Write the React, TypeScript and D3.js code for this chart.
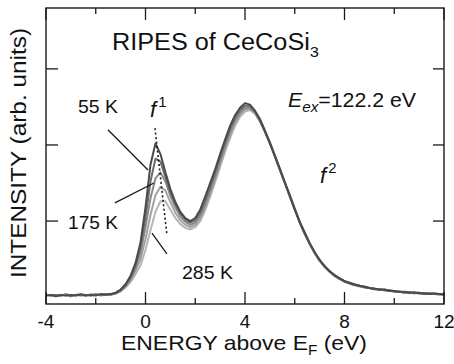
import React from 'react';
import * as d3 from 'd3';

// energy grid (eV) shared by every spectrum
const energy = [
  -4.0, -3.8, -3.6, -3.4, -3.2, -3.0, -2.8, -2.6, -2.4, -2.2,
  -2.0, -1.8, -1.6, -1.4, -1.2, -1.0, -0.8, -0.6, -0.4, -0.2,
  0.0, 0.2, 0.4, 0.6, 0.8, 1.0, 1.2, 1.4, 1.6, 1.8,
  2.0, 2.2, 2.4, 2.6, 2.8, 3.0, 3.2, 3.4, 3.6, 3.8,
  4.0, 4.2, 4.4, 4.6, 4.8, 5.0, 5.2, 5.4, 5.6, 5.8,
  6.0, 6.2, 6.4, 6.6, 6.8, 7.0, 7.2, 7.4, 7.6, 7.8,
  8.0, 8.2, 8.4, 8.6, 8.8, 9.0, 9.2, 9.4, 9.6, 9.8,
  10.0, 10.2, 10.4, 10.6, 10.8, 11.0, 11.2, 11.4, 11.6, 11.8, 12.0,
];

const temps = ['285 K', '230 K', '175 K', '120 K', '55 K'];
const colors = ['#b6b6b6', '#a2a2a2', '#8a8a8a', '#6c6c6c', '#4a4a4a'];

const i285 = [
  0.03, 0.02, 0.03, 0.02, 0.04, 0.02, 0.03, 0.03, 0.02, 0.04,
  0.03, 0.03, 0.04, 0.04, 0.05, 0.08, 0.13, 0.20, 0.30, 0.42,
  0.62, 0.88, 1.12, 1.26, 1.26, 1.15, 1.04, 0.96, 0.91, 0.89,
  0.92, 1.00, 1.14, 1.32, 1.51, 1.71, 1.91, 2.09, 2.25, 2.37,
  2.44, 2.46, 2.41, 2.31, 2.18, 2.02, 1.85, 1.68, 1.50, 1.32,
  1.15, 0.98, 0.83, 0.70, 0.58, 0.48, 0.40, 0.34, 0.28, 0.24,
  0.21, 0.18, 0.16, 0.15, 0.13, 0.12, 0.11, 0.10, 0.09, 0.09,
  0.08, 0.07, 0.06, 0.06, 0.05, 0.05, 0.05, 0.04, 0.04, 0.04, 0.03,
];
const i230 = [
  0.03, 0.02, 0.02, 0.03, 0.02, 0.03, 0.02, 0.03, 0.03, 0.02,
  0.03, 0.03, 0.04, 0.03, 0.05, 0.08, 0.13, 0.22, 0.35, 0.50,
  0.76, 1.08, 1.34, 1.45, 1.40, 1.25, 1.11, 1.01, 0.95, 0.92,
  0.95, 1.03, 1.18, 1.36, 1.55, 1.75, 1.95, 2.13, 2.29, 2.40,
  2.47, 2.47, 2.42, 2.31, 2.17, 2.02, 1.85, 1.67, 1.50, 1.32,
  1.15, 0.98, 0.83, 0.70, 0.58, 0.48, 0.40, 0.33, 0.28, 0.24,
  0.20, 0.18, 0.16, 0.14, 0.13, 0.12, 0.10, 0.10, 0.09, 0.08,
  0.08, 0.07, 0.06, 0.05, 0.06, 0.05, 0.04, 0.05, 0.04, 0.03, 0.04,
];
const i175 = [
  0.02, 0.03, 0.02, 0.02, 0.04, 0.02, 0.03, 0.03, 0.02, 0.03,
  0.04, 0.02, 0.03, 0.04, 0.05, 0.08, 0.15, 0.24, 0.38, 0.58,
  0.92, 1.30, 1.56, 1.64, 1.52, 1.33, 1.18, 1.06, 0.99, 0.95,
  0.98, 1.07, 1.22, 1.40, 1.59, 1.79, 1.99, 2.17, 2.32, 2.43,
  2.49, 2.49, 2.43, 2.32, 2.18, 2.03, 1.85, 1.68, 1.51, 1.33,
  1.16, 0.98, 0.84, 0.71, 0.58, 0.49, 0.40, 0.34, 0.29, 0.24,
  0.21, 0.19, 0.16, 0.15, 0.13, 0.12, 0.11, 0.10, 0.10, 0.09,
  0.08, 0.07, 0.06, 0.06, 0.06, 0.05, 0.05, 0.04, 0.04, 0.04, 0.03,
];
const i120 = [
  0.03, 0.02, 0.03, 0.02, 0.03, 0.01, 0.03, 0.02, 0.03, 0.02,
  0.03, 0.03, 0.04, 0.03, 0.05, 0.09, 0.16, 0.26, 0.42, 0.66,
  1.05, 1.52, 1.82, 1.78, 1.58, 1.38, 1.22, 1.10, 1.02, 0.98,
  1.01, 1.11, 1.27, 1.45, 1.64, 1.84, 2.03, 2.21, 2.36, 2.46,
  2.52, 2.51, 2.44, 2.33, 2.18, 2.02, 1.86, 1.68, 1.50, 1.33,
  1.15, 0.99, 0.84, 0.70, 0.59, 0.48, 0.40, 0.34, 0.28, 0.24,
  0.21, 0.18, 0.16, 0.15, 0.13, 0.12, 0.11, 0.10, 0.09, 0.09,
  0.07, 0.07, 0.06, 0.06, 0.05, 0.06, 0.04, 0.05, 0.04, 0.04, 0.03,
];
const i55 = [
  0.02, 0.03, 0.01, 0.03, 0.02, 0.03, 0.02, 0.04, 0.02, 0.03,
  0.02, 0.04, 0.03, 0.04, 0.06, 0.10, 0.17, 0.28, 0.45, 0.72,
  1.18, 1.74, 2.02, 1.88, 1.64, 1.42, 1.25, 1.12, 1.04, 1.00,
  1.04, 1.15, 1.32, 1.50, 1.68, 1.88, 2.07, 2.25, 2.39, 2.49,
  2.55, 2.53, 2.45, 2.34, 2.19, 2.03, 1.86, 1.69, 1.51, 1.34,
  1.16, 0.99, 0.85, 0.71, 0.59, 0.49, 0.41, 0.34, 0.29, 0.25,
  0.21, 0.19, 0.17, 0.15, 0.14, 0.12, 0.11, 0.10, 0.10, 0.08,
  0.08, 0.07, 0.07, 0.06, 0.06, 0.05, 0.05, 0.04, 0.05, 0.04, 0.04,
];
const spectra = [i285, i230, i175, i120, i55];

const xMajor = [-4, 0, 4, 8, 12];
const xMinor = [-2, 2, 6, 10];
const yTicks = [1, 2, 3];

// annotation leader lines [E0, I0, E1, I1]
const leaders = [
  [-1.51, 2.2, 0.1, 1.67],
  [-1.23, 1.24, 0.34, 1.5],
  [0.26, 0.84, 0.86, 0.57],
];
const peakGuide = [0.38, 2.22, 0.86, 0.82];

const W = 454;
const H = 364;

export default function App() {
  const x = d3.scaleLinear().domain([-4, 12]).range([46, 444]);
  const y = d3.scaleLinear().domain([-0.09, 3.8]).range([304, 8]);
  const [x0, x1] = x.range();
  const [y0, y1] = y.range();

  const line = d3.line<number>()
    .x((_, i) => x(energy[i]))
    .y(d => y(d));

  const font = '"Liberation Sans", Arial, sans-serif';

  return (
    <svg width={W} height={H} style={{ position: 'absolute', left: 0, top: 0, background: '#fff' }}
      fontFamily={font} fill="#111">
      {/* spectra, warm first so the cold one sits on top */}
      {spectra.map((s, k) => (
        <path key={k} d={line(s) || ''} fill="none" stroke={colors[k]} strokeWidth={2}
          strokeLinejoin="round" />
      ))}

      {/* frame */}
      <rect x={x0} y={y1} width={x1 - x0} height={y0 - y1} fill="none" stroke="#1a1a1a" strokeWidth={1.4} />
      {xMajor.map(v => (
        <g key={'M' + v}>
          <line x1={x(v)} x2={x(v)} y1={y0} y2={y0 - 12} stroke="#1a1a1a" strokeWidth={1.3} />
          <line x1={x(v)} x2={x(v)} y1={y1} y2={y1 + 12} stroke="#1a1a1a" strokeWidth={1.3} />
          <text x={x(v)} y={328} fontSize={19} textAnchor="middle">{v}</text>
        </g>
      ))}
      {xMinor.map(v => (
        <g key={'m' + v}>
          <line x1={x(v)} x2={x(v)} y1={y0} y2={y0 - 6} stroke="#1a1a1a" strokeWidth={1.3} />
          <line x1={x(v)} x2={x(v)} y1={y1} y2={y1 + 6} stroke="#1a1a1a" strokeWidth={1.3} />
        </g>
      ))}
      {yTicks.map(v => (
        <g key={'y' + v}>
          <line x1={x0} x2={x0 + 12} y1={y(v)} y2={y(v)} stroke="#1a1a1a" strokeWidth={1.3} />
          <line x1={x1} x2={x1 - 11} y1={y(v)} y2={y(v)} stroke="#1a1a1a" strokeWidth={1.3} />
        </g>
      ))}

      {/* axis titles */}
      <text x={244} y={350} fontSize={21} textAnchor="middle" textLength={246} lengthAdjust="spacingAndGlyphs">
        ENERGY above E<tspan fontSize={14} dy={5}>F</tspan><tspan dy={-5}> (eV)</tspan>
      </text>
      <text transform="translate(26,153) rotate(-90)" fontSize={22} textAnchor="middle"
        textLength={250} lengthAdjust="spacingAndGlyphs">
        INTENSITY (arb. units)
      </text>

      {/* annotations */}
      <text x={112} y={50} fontSize={23} textLength={207} lengthAdjust="spacingAndGlyphs">
        RIPES of CeCoSi<tspan fontSize={15} dy={7}>3</tspan>
      </text>
      <text x={288} y={107} fontSize={21} textLength={128} lengthAdjust="spacingAndGlyphs">
        <tspan fontStyle="italic">E</tspan>
        <tspan fontStyle="italic" fontSize={15} dy={5}>ex</tspan>
        <tspan dy={-5}>=122.2 eV</tspan>
      </text>
      <text x={150} y={117} fontSize={22} fontStyle="italic">
        f<tspan fontStyle="normal" fontSize={15} dx={2} dy={-10}>1</tspan>
      </text>
      <text x={320} y={183} fontSize={22} fontStyle="italic">
        f<tspan fontStyle="normal" fontSize={15} dx={2} dy={-10}>2</tspan>
      </text>
      <text x={78} y={113} fontSize={19} textLength={40} lengthAdjust="spacingAndGlyphs">55 K</text>
      <text x={68} y={229} fontSize={19} textLength={50} lengthAdjust="spacingAndGlyphs">175 K</text>
      <text x={182} y={279} fontSize={19} textLength={51} lengthAdjust="spacingAndGlyphs">285 K</text>

      {leaders.map((l, k) => (
        <line key={'l' + k} x1={x(l[0])} y1={y(l[1])} x2={x(l[2])} y2={y(l[3])}
          stroke="#1a1a1a" strokeWidth={1.3} />
      ))}
      <line x1={x(peakGuide[0])} y1={y(peakGuide[1])} x2={x(peakGuide[2])} y2={y(peakGuide[3])}
        stroke="#1a1a1a" strokeWidth={1.6} strokeDasharray="2 2.5" />
    </svg>
  );
}
